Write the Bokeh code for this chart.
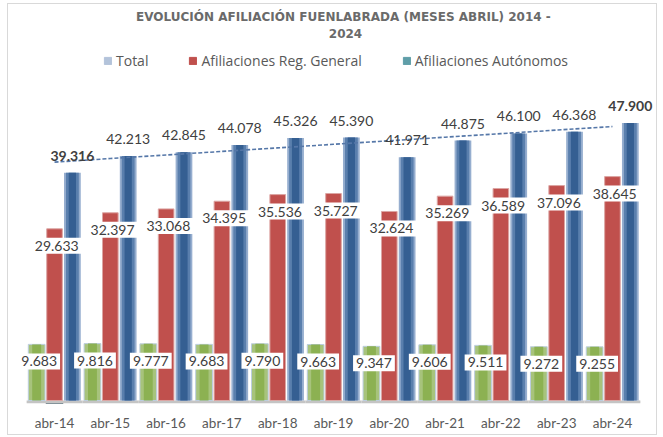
import numpy as np
from bokeh.plotting import figure
from bokeh.models import ColumnDataSource, Range1d, FactorRange, Label, Legend, LegendItem
from bokeh.transform import dodge
from bokeh.core.properties import value
from bokeh.embed import file_html
from bokeh.resources import INLINE

# ---- data ----
categories = ["abr-14", "abr-15", "abr-16", "abr-17", "abr-18", "abr-19",
              "abr-20", "abr-21", "abr-22", "abr-23", "abr-24"]
total = [39316, 42213, 42845, 44078, 45326, 45390, 41971, 44875, 46100, 46368, 47900]
reg_general = [29633, 32397, 33068, 34395, 35536, 35727, 32624, 35269, 36589, 37096, 38645]
autonomos = [9683, 9816, 9777, 9683, 9790, 9663, 9347, 9606, 9511, 9272, 9255]

title_line1 = "EVOLUCIÓN AFILIACIÓN FUENLABRADA (MESES ABRIL)  2014 -"
title_line2 = "2024"
legend_labels = ["Total", "Afiliaciones Reg. General", "Afiliaciones Autónomos"]


def fmt(v):
    return f"{v:,}".replace(",", ".")


n = len(categories)
src = ColumnDataSource(dict(
    cat=categories, total=total, reg=reg_general, auto=autonomos,
    total_lbl=[fmt(v) for v in total],
    reg_lbl=[fmt(v) for v in reg_general],
    auto_lbl=[fmt(v) for v in autonomos],
    tstyle=["bold" if i in (0, n - 1) else "normal" for i in range(n)],
))

Y_MIN = -520  # room below zero for the grey category baseline strip

p = figure(width=650, height=432,
           x_range=FactorRange(factors=categories, range_padding=0.325,
                               range_padding_units="absolute"),
           y_range=Range1d(Y_MIN, 68350),
           output_backend="svg", toolbar_location=None,
           y_axis_location=None,
           min_border_left=0, min_border_right=0,
           min_border_top=0, min_border_bottom=33)
p.outline_line_color = None
p.xgrid.visible = False
p.ygrid.visible = False
p.background_fill_color = "white"
p.border_fill_color = "white"

xg = dodge("cat", -0.32, range=p.x_range)
xr = dodge("cat", 0.0, range=p.x_range)
xb = dodge("cat", 0.32, range=p.x_range)

# grey baseline strip under the categories
p.vbar(x="cat", bottom=Y_MIN, top=0, width=1.0, source=src,
       fill_color="#c4c4c4", line_color=None)

# Autónomos (green, with soft edges)
p.vbar(x=xg, top="auto", width=0.30, source=src, fill_color="#a7c37c",
       line_color="#bccde0", line_width=1)
p.vbar(x=xg, top="auto", width=0.16, source=src, fill_color="#8cb152", line_color=None)
# Reg. General (red)
p.vbar(x=xr, top="reg", width=0.28, source=src, fill_color="#c0504d",
       line_color="#dca5a3", line_width=1)
# Total (blue gradient imitation)
p.vbar(x=xb, top="total", width=0.30, source=src, fill_color="#96aecf", line_color=None)
p.vbar(x=xb, top="total", width=0.23, source=src, fill_color="#5a7fad", line_color=None)
p.vbar(x=xb, top="total", width=0.13, source=src, fill_color="#355f92", line_color=None)

# linear trend of totals
idx = np.arange(n)
coef = np.polyfit(idx, total, 1)
trend = np.polyval(coef, idx)
p.line(x=categories, y=list(trend), line_dash="4 2", line_color="#5577a8", line_width=1.6)

# labels
p.text(x=xb, y="total", text="total_lbl", source=src, text_align="center",
       text_baseline="middle", y_offset=-17, text_font=value("Lato"),
       text_font_size="14px", text_color="#404040", text_font_style="tstyle")
p.text(x=dodge("cat", 0.04, range=p.x_range), y="reg", text="reg_lbl", source=src,
       text_align="center", text_baseline="middle", y_offset=17,
       text_font=value("Lato"), text_font_size="14px", text_color="#404040",
       background_fill_color="white", padding=3)
p.text(x=dodge("cat", -0.275, range=p.x_range), y="auto", text="auto_lbl", source=src,
       text_align="center", text_baseline="middle", y_offset=17,
       text_font=value("Lato"), text_font_size="14px", text_color="#404040",
       background_fill_color="white", padding=3)

# title (frame starts at the content's left edge; y measured up from frame bottom)
for txt, yy in ((title_line1, 387), (title_line2, 370)):
    p.add_layout(Label(x=337, y=yy, x_units="screen", y_units="screen", text=txt,
                       text_align="center", text_baseline="middle",
                       text_font="DejaVu Sans", text_font_size="12px",
                       text_font_style="bold", text_color="#6a6a6a"))

# legend swatches: tiny bars placed below the frame (clipped), used only for the legend
leg_colors = ["#b3c3da", "#c0504d", "#5f9ea8"]
items = []
for lab, col in zip(legend_labels, leg_colors):
    r = p.vbar(x=[categories[0]], top=[-3000], bottom=[-4000], width=0.3,
               fill_color=col, line_color=col)
    items.append(LegendItem(label=lab, renderers=[r]))
legend = Legend(items=items, orientation="horizontal", location=(95, 333),
                glyph_width=9, glyph_height=9, label_standoff=4, spacing=40,
                padding=0, margin=0, border_line_color=None,
                background_fill_alpha=0, label_text_font="Open Sans",
                label_text_font_size="14px", label_text_color="#595959",
                label_height=16)
p.add_layout(legend)

# x axis: labels only (baseline strip drawn above)
p.xaxis.axis_line_color = None
p.xaxis.major_tick_line_color = None
p.xaxis.minor_tick_line_color = None
p.xaxis.major_label_text_font = "Lato"
p.xaxis.major_label_text_font_size = "13.5px"
p.xaxis.major_label_text_color = "#595959"
p.xaxis.major_label_standoff = 5

p.styles = {"margin-left": "7px", "margin-top": "3px", "border": "1px solid #d9d9d9"}

open("out.html", "w").write(file_html(p, INLINE))
